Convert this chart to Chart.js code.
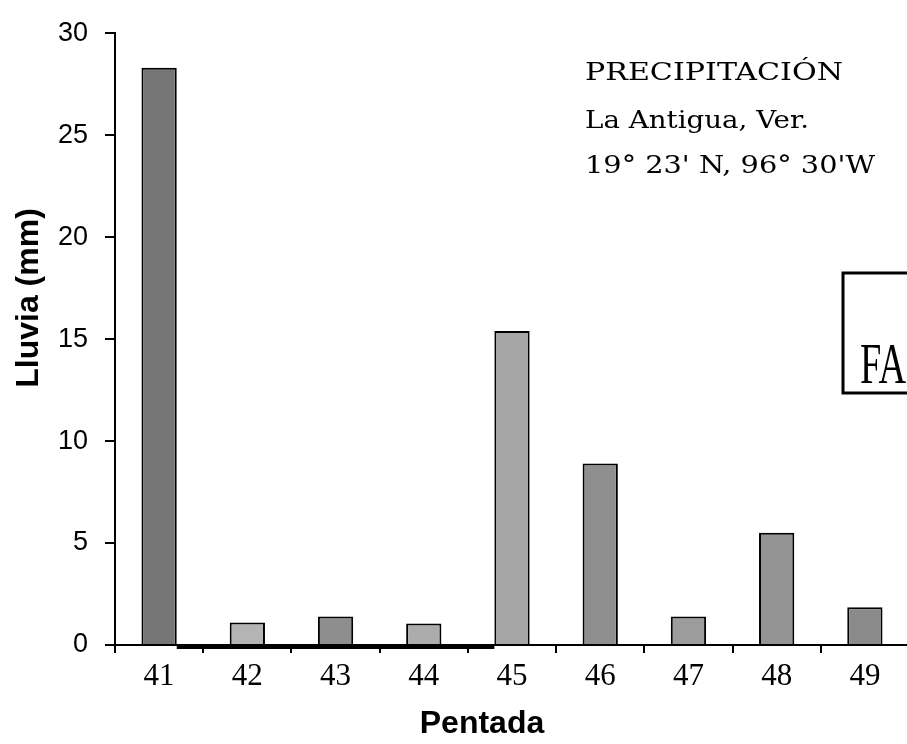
<!DOCTYPE html>
<html>
<head>
<meta charset="utf-8">
<script src="https://cdn.jsdelivr.net/npm/chart.js@4/dist/chart.umd.min.js"></script>
<style>
  html, body { margin: 0; padding: 0; background: #fff; overflow: hidden; }
  #wrap { position: relative; width: 909px; height: 744px; }
</style>
</head>
<body>
<div id="wrap"><canvas id="c"></canvas></div>
<script>
// ---- data ----
const categories = ['41', '42', '43', '44', '45', '46', '47', '48', '49'];
const lluvia = [28.3, 1.1, 1.4, 1.05, 15.4, 8.9, 1.4, 5.5, 1.85];
const barColors = ['#767676', '#b4b4b4', '#8e8e8e', '#acacac', '#a6a6a6', '#8f8f8f', '#9c9c9c', '#939393', '#8a8a8a'];
const yTicks = [0, 5, 10, 15, 20, 25, 30];
const yTitle = 'Lluvia (mm)';
const xTitle = 'Pentada';
const infoLines = ['PRECIPITACIÓN', 'La Antigua, Ver.', "19° 23' N, 96° 30'W"];
const boxText = 'FAI';

const annot = {
  id: 'annot',
  afterDraw(chart) {
    const ctx = chart.ctx;
    const ys = chart.scales.y;
    ctx.save();
    // thick baseline segment between bar 41 and bar 45
    const meta = chart.getDatasetMeta(0);
    const b0 = meta.data[0], b4 = meta.data[4];
    const y0 = ys.getPixelForValue(0);
    ctx.strokeStyle = '#000';
    ctx.lineWidth = 4;
    ctx.beginPath();
    ctx.moveTo(b0.x + b0.width / 2, y0 + 2);
    ctx.lineTo(b4.x - b4.width / 2, y0 + 2);
    ctx.stroke();

    // axis titles
    ctx.fillStyle = '#000';
    ctx.font = 'bold 32px "Liberation Sans", Arial, sans-serif';
    ctx.textAlign = 'center';
    ctx.textBaseline = 'alphabetic';
    ctx.fillText(xTitle, 482, 733);
    ctx.save();
    ctx.translate(38, 298);
    ctx.rotate(-Math.PI / 2);
    ctx.fillText(yTitle, 0, 0);
    ctx.restore();

    // info text block
    const targets = [[585, 80, 258], [585, 128, 224], [585, 173, 290]];
    ctx.font = '25px "DejaVu Serif", serif';
    ctx.textAlign = 'left';
    infoLines.forEach((t, i) => {
      const [x, y, w] = targets[i];
      const m = ctx.measureText(t).width;
      ctx.save();
      ctx.translate(x, y);
      ctx.scale(w / m, 1);
      ctx.fillText(t, 0, 0);
      ctx.restore();
    });

    // partially visible box with text
    ctx.lineWidth = 3;
    ctx.strokeRect(843, 273, 200, 120);
    ctx.save();
    ctx.translate(860, 383);
    ctx.scale(0.66, 1);
    ctx.font = '58px "Liberation Serif", "Times New Roman", serif';
    ctx.fillText(boxText, 0, 0);
    ctx.restore();
    ctx.restore();
  }
};

new Chart(document.getElementById('c'), {
  type: 'bar',
  data: {
    labels: categories,
    datasets: [{
      data: lluvia,
      backgroundColor: barColors,
      borderColor: '#000',
      borderWidth: 2,
      barPercentage: 0.4,
      categoryPercentage: 1.0
    }]
  },
  options: {
    responsive: true,
    maintainAspectRatio: false,
    animation: false,
    layout: { padding: { top: 25, right: 0, bottom: 0, left: 0 } },
    plugins: { legend: { display: false }, tooltip: { enabled: false } },
    scales: {
      x: {
        afterFit(s) { s.height = 99; },
        grid: { display: true, drawOnChartArea: false, offset: true, tickLength: 8, color: '#000', lineWidth: 2 },
        border: { display: true, color: '#000', width: 2 },
        ticks: { color: '#000', padding: 5, font: { family: '"Liberation Serif", "Times New Roman", serif', size: 31 } }
      },
      y: {
        min: 0, max: 30,
        afterFit(s) { s.width = 115; },
        afterBuildTicks(s) { s.ticks = yTicks.map(v => ({ value: v })); },
        grid: { display: true, drawOnChartArea: false, tickLength: 10, color: '#000', lineWidth: 2 },
        border: { display: true, color: '#000', width: 2 },
        ticks: { color: '#000', padding: 17, font: { family: '"Liberation Sans", Arial, sans-serif', size: 27 } }
      }
    }
  },
  plugins: [annot]
});
</script>
</body>
</html>
